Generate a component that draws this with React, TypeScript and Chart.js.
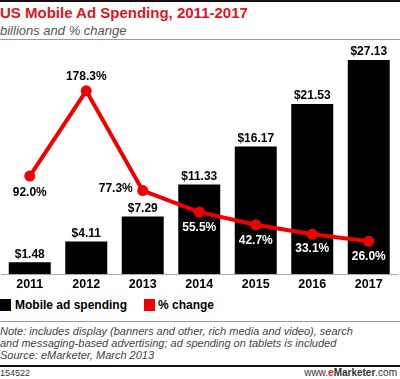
import React, { useEffect, useRef } from "react";
import { Chart, registerables } from "chart.js";

Chart.register(...registerables);

const years = ["2011", "2012", "2013", "2014", "2015", "2016", "2017"];
const spending = [1.48, 4.11, 7.29, 11.33, 16.17, 21.53, 27.13];
const pctChange = [92.0, 178.3, 77.3, 55.5, 42.7, 33.1, 26.0];

const FONT = "'Liberation Sans', Arial, sans-serif";

const labelPlugin = {
  id: "valueLabels",
  afterDatasetsDraw(chart: any) {
    const ctx = chart.ctx;
    ctx.save();
    ctx.font = `bold 12px ${FONT}`;
    ctx.textAlign = "center";
    ctx.textBaseline = "middle";
    const barMeta = chart.getDatasetMeta(1);
    barMeta.data.forEach((el: any, i: number) => {
      ctx.fillStyle = "#000";
      ctx.fillText(`$${spending[i].toFixed(2)}`, el.x, el.y - 8);
    });
    const lineMeta = chart.getDatasetMeta(0);
    const offs = [
      [0, 17],
      [0, -14],
      [-27, -2],
      [0, 16],
      [0, 16],
      [0, 14],
      [0, 15],
    ];
    lineMeta.data.forEach((el: any, i: number) => {
      ctx.fillStyle = i >= 3 ? "#fff" : "#000";
      ctx.fillText(`${pctChange[i].toFixed(1)}%`, el.x + offs[i][0], el.y + offs[i][1]);
    });
    ctx.restore();
  },
};

function ChartCanvas() {
  const ref = useRef<HTMLCanvasElement>(null);
  useEffect(() => {
    if (!ref.current) return;
    const chart = new Chart(ref.current, {
      type: "bar",
      data: {
        labels: years,
        datasets: [
          {
            type: "line",
            label: "% change",
            data: pctChange,
            yAxisID: "y1",
            borderColor: "#f20000",
            backgroundColor: "#f20000",
            borderWidth: 4,
            pointRadius: 5.5,
            pointBackgroundColor: "#f20000",
            pointBorderWidth: 0,
            tension: 0,
            order: 0,
          } as any,
          {
            type: "bar",
            label: "Mobile ad spending",
            data: spending,
            yAxisID: "y",
            backgroundColor: "#000",
            barPercentage: 0.743,
            categoryPercentage: 1,
            order: 1,
          },
        ],
      },
      options: {
        responsive: false,
        animation: false,
        layout: { autoPadding: false, padding: { left: 1.5, right: 3, top: 4, bottom: 0 } },
        plugins: { legend: { display: false }, tooltip: { enabled: false } },
        scales: {
          x: {
            grid: { display: false, drawTicks: false },
            border: { display: true, color: "#aaa", width: 1 },
            ticks: {
              color: "#000",
              padding: 3,
              font: { family: FONT, size: 12.5, weight: "bold" },
            },
          },
          y: { display: false, min: 0, max: 29.15 },
          y1: { display: false, min: -7.1, max: 225.7 },
        },
      },
      plugins: [labelPlugin],
    });
    return () => chart.destroy();
  }, []);
  return (
    <canvas
      ref={ref}
      width={400}
      height={255}
      style={{ position: "absolute", left: 0, top: 40, width: 400, height: 255 }}
    />
  );
}

export default function App() {
  return (
    <div
      style={{
        position: "absolute",
        left: 0,
        top: 0,
        width: 400,
        height: 379,
        background: "#fff",
        fontFamily: FONT,
        overflow: "hidden",
      }}
    >
      <div style={{ position: "absolute", left: 0, top: 0, width: 400, height: 2, background: "#111" }} />
      <div
        style={{
          position: "absolute",
          left: 0,
          top: 4,
          fontSize: 15,
          fontWeight: "bold",
          color: "#e0141e",
          lineHeight: "18px",
          whiteSpace: "nowrap",
        }}
      >
        US Mobile Ad Spending, 2011-2017
      </div>
      <div
        style={{
          position: "absolute",
          left: 0,
          top: 23,
          fontSize: 13,
          fontStyle: "italic",
          color: "#555",
          lineHeight: "16px",
          whiteSpace: "nowrap",
        }}
      >
        billions and % change
      </div>
      <div style={{ position: "absolute", left: 0, top: 39, width: 400, height: 1, background: "#999" }} />
      <ChartCanvas />
      <div style={{ position: "absolute", left: 0, top: 299, width: 11, height: 12, background: "#000" }} />
      <div
        style={{
          position: "absolute",
          left: 15,
          top: 297,
          fontSize: 12,
          fontWeight: "bold",
          lineHeight: "16px",
          color: "#000",
          whiteSpace: "nowrap",
        }}
      >
        Mobile ad spending
      </div>
      <div style={{ position: "absolute", left: 144, top: 299, width: 11, height: 12, background: "#f20000" }} />
      <div
        style={{
          position: "absolute",
          left: 158,
          top: 297,
          fontSize: 12,
          fontWeight: "bold",
          lineHeight: "16px",
          color: "#000",
          whiteSpace: "nowrap",
        }}
      >
        % change
      </div>
      <div style={{ position: "absolute", left: 0, top: 321, width: 400, height: 1, background: "#999" }} />
      <div
        style={{
          position: "absolute",
          left: 0,
          top: 325,
          fontSize: 11,
          fontStyle: "italic",
          lineHeight: "12px",
          color: "#444",
          whiteSpace: "nowrap",
        }}
      >
        <div>Note: includes display (banners and other, rich media and video), search</div>
        <div>and messaging-based advertising; ad spending on tablets is included</div>
        <div>Source: eMarketer, March 2013</div>
      </div>
      <div style={{ position: "absolute", left: 0, top: 365, width: 400, height: 2, background: "#111" }} />
      <div
        style={{
          position: "absolute",
          left: 0,
          top: 368,
          fontSize: 9,
          lineHeight: "11px",
          color: "#333",
          whiteSpace: "nowrap",
        }}
      >
        154522
      </div>
      <div
        style={{
          position: "absolute",
          right: 3,
          top: 367,
          fontSize: 10,
          lineHeight: "12px",
          color: "#333",
          whiteSpace: "nowrap",
        }}
      >
        www.<span style={{ color: "#e0141e", fontWeight: "bold" }}>e</span>
        <span style={{ fontWeight: "bold" }}>Marketer</span>.com
      </div>
    </div>
  );
}
